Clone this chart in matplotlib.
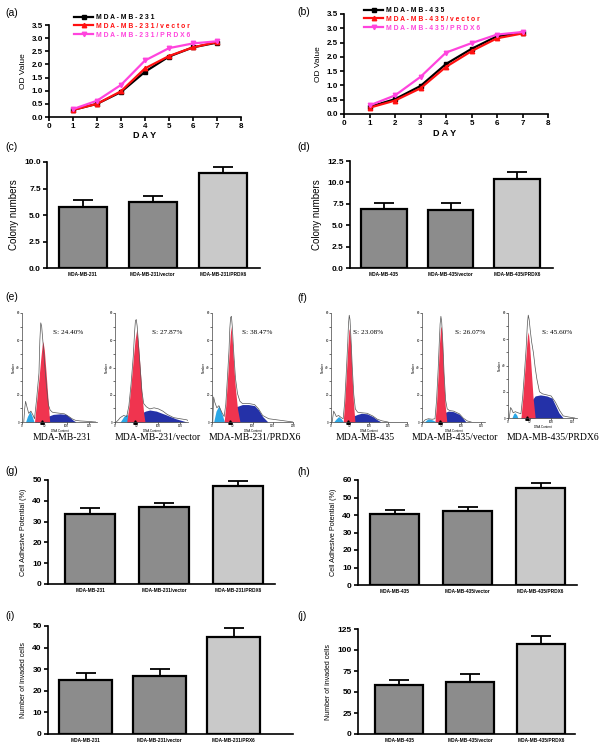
import numpy as np
import matplotlib
matplotlib.use("Agg")
import matplotlib.pyplot as plt

W, H = 600, 749
plt.rcParams['font.family'] = ['Liberation Sans', 'DejaVu Sans']

# ----- growth curves (a, b) -----
DAYS = [1, 2, 3, 4, 5, 6, 7]
od_231 = [0.27, 0.50, 0.95, 1.72, 2.30, 2.65, 2.83]
od_231_vec = [0.27, 0.50, 0.98, 1.85, 2.32, 2.65, 2.85]
od_231_prdx6 = [0.30, 0.62, 1.22, 2.15, 2.62, 2.80, 2.88]
od_435 = [0.25, 0.52, 0.98, 1.75, 2.28, 2.72, 2.85]
od_435_vec = [0.22, 0.47, 0.90, 1.65, 2.20, 2.65, 2.82]
od_435_prdx6 = [0.30, 0.65, 1.30, 2.15, 2.48, 2.78, 2.87]
names_231 = ['M D A - M B - 2 3 1', 'M D A - M B - 2 3 1 / v e c t o r', 'M D A - M B - 2 3 1 / P R D X 6']
names_435 = ['M D A - M B - 4 3 5', 'M D A - M B - 4 3 5 / v e c t o r', 'M D A - M B - 4 3 5 / P R D X 6']
LINE_COLORS = ['black', '#ff1010', '#ff44dd']
MARKERS = ['s', '^', 'v']

# ----- bar panels -----
groups_231 = ['MDA-MB-231', 'MDA-MB-231/vector', 'MDA-MB-231/PRDX6']
groups_435 = ['MDA-MB-435', 'MDA-MB-435/vector', 'MDA-MB-435/PRDX6']
groups_231_inv = ['MDA-MB-231', 'MDA-MB-231/vector', 'MDA-MB-231/PRX6']
colony_231 = [5.8, 6.2, 9.0]
colony_231_err = [0.65, 0.6, 0.55]
colony_435 = [6.85, 6.8, 10.4]
colony_435_err = [0.75, 0.85, 0.8]
adhesive_231 = [33.8, 36.8, 47.3]
adhesive_231_err = [2.5, 2.2, 2.3]
adhesive_435 = [40.5, 42.3, 55.2]
adhesive_435_err = [2.2, 2.5, 3.0]
invaded_231 = [25.0, 26.8, 45.0]
invaded_231_err = [3.3, 3.2, 4.0]
invaded_435 = [58.0, 62.0, 107.5]
invaded_435_err = [6.5, 9.0, 9.0]
BAR_COLORS = ['#8c8c8c', '#8c8c8c', '#c9c9c9']

# ----- cell cycle histograms (e, f): points -----
flow_231 = [
    dict(s='S: 24.40%',
         cyan=([8, 12, 18, 23, 27], [0, 5, 10, 5, 0]),
         red=([28, 33, 38, 42, 45, 47, 50, 54, 58, 62], [0, 20, 40, 58, 70, 74, 66, 45, 22, 0]),
         blue=([28, 40, 50, 60, 70, 85, 99, 108, 115, 121], [0, 2.5, 4, 5.5, 7, 7.5, 7, 4, 1.5, 0]),
         line=([4, 6, 8, 11, 15, 20, 25, 28, 33, 38, 40, 42, 44, 46, 48, 51, 55, 59, 63, 68, 75, 85, 95, 105, 112, 120, 130, 150, 165],
               [0, 12, 19, 14, 8, 10, 6, 3, 22, 45, 75, 91, 88, 78, 68, 52, 32, 16, 11, 9, 8.5, 8, 7.5, 5, 3, 1.5, 1, 0.5, 0])),
    dict(s='S: 27.87%',
         cyan=([12, 20, 27, 35, 42], [0, 5, 7, 4, 0]),
         red=([27, 32, 37, 42, 46, 50, 54, 58, 62, 66, 69], [0, 15, 35, 58, 75, 85, 70, 48, 25, 8, 0]),
         blue=([38, 55, 70, 80, 95, 115, 140, 165], [0, 7, 10, 11, 10, 7, 3, 0]),
         line=([3, 8, 12, 20, 27, 32, 37, 42, 45, 47, 49, 51, 54, 58, 62, 66, 72, 80, 90, 100, 110, 120, 135, 150, 165, 175],
               [0, 2, 4, 6, 5, 15, 35, 60, 82, 93, 94, 88, 72, 50, 28, 17, 14, 12, 13, 12, 10, 7, 4, 3, 2, 0])),
    dict(s='S: 38.47%',
         cyan=([4, 10, 17, 24, 31], [0, 10, 15, 8, 0]),
         red=([30, 34, 38, 42, 45, 47, 50, 54, 58, 63, 69], [0, 15, 38, 62, 80, 88, 75, 50, 30, 12, 0]),
         blue=([31, 45, 60, 75, 90, 105, 115, 125, 138], [0, 8, 14, 16, 16, 15, 11, 5, 0]),
         line=([2, 4, 7, 12, 17, 24, 30, 34, 38, 42, 44, 46, 48, 50, 54, 58, 63, 69, 75, 90, 105, 115, 125, 140, 160, 180, 200],
               [0, 23, 18, 13, 15, 9, 5, 16, 40, 66, 86, 96, 97, 88, 62, 40, 26, 19, 17, 17, 16, 12, 6, 3, 2, 1, 0])),
]
flow_435 = [
    dict(s='S: 23.08%',
         cyan=([7, 14, 20, 27, 33], [0, 3, 5, 3, 0]),
         red=([32, 36, 40, 44, 47, 49, 52, 55, 59, 63], [0, 18, 42, 68, 84, 86, 70, 45, 18, 0]),
         blue=([40, 55, 70, 80, 95, 110, 122, 132], [0, 5, 7, 8, 7.5, 5, 2, 0]),
         line=([3, 7, 10, 14, 20, 27, 32, 36, 40, 44, 46, 48, 50, 53, 56, 60, 64, 70, 80, 95, 110, 122, 135, 150],
               [0, 10, 8, 5, 6, 4, 3, 18, 44, 72, 90, 98, 94, 74, 50, 25, 12, 9, 8.5, 8, 5.5, 2.5, 1, 0])),
    dict(s='S: 26.07%',
         cyan=([6, 12, 16, 26, 37], [0, 2, 3, 2, 0]),
         red=([33, 37, 41, 44, 47, 49, 52, 55, 59, 63], [0, 18, 45, 70, 86, 88, 70, 42, 15, 0]),
         blue=([37, 50, 60, 67, 80, 95, 105, 112], [0, 6, 9, 10, 9.5, 7, 3, 0]),
         line=([3, 8, 16, 26, 33, 37, 41, 44, 46, 48, 50, 53, 56, 60, 64, 70, 80, 95, 105, 115, 125],
               [0, 2, 3, 2.5, 3, 20, 48, 74, 90, 97, 92, 72, 45, 20, 12, 10.5, 10, 7.5, 3.5, 1, 0])),
    dict(s='S: 45.60%',
         cyan=([9, 13, 16, 20, 23], [0, 4, 5, 3, 0]),
         red=([30, 34, 38, 42, 45, 47, 50, 54, 58, 63], [0, 18, 40, 62, 78, 82, 70, 45, 20, 0]),
         blue=([30, 40, 50, 63, 75, 90, 102, 110, 118, 128], [0, 6, 14, 21, 22, 21, 19, 12, 5, 0]),
         line=([3, 6, 9, 12, 17, 23, 30, 34, 38, 42, 45, 47, 49, 52, 55, 59, 63, 67, 73, 80, 90, 100, 110, 120, 128, 140, 155],
               [0, 10, 8, 5, 6, 5, 4, 20, 42, 66, 90, 98, 94, 82, 72, 62, 48, 37, 25, 23, 22, 21, 15, 7, 2, 1, 0])),
]


def px_axes(fig, left, top, right, bottom):
    return fig.add_axes([left / W, 1 - bottom / H, (right - left) / W, (bottom - top) / H])


def tag(fig, x, y, text):
    fig.text(x / W, 1 - y / H, text, fontsize=7.5, ha='left', va='center')


def style_axes(ax, lw=1.1):
    for s in ['top', 'right']:
        ax.spines[s].set_visible(False)
    for s in ['left', 'bottom']:
        ax.spines[s].set_linewidth(lw)
    ax.tick_params(width=lw, length=3, direction='out', pad=1.5)


def growth_panel(fig, rect, series, names, legend_xy, day_xy):
    ax = px_axes(fig, *rect)
    for vals, name, color, marker in zip(series, names, LINE_COLORS, MARKERS):
        ax.plot(DAYS, vals, color=color, marker=marker, ms=3.2, lw=1.6, label=name)
    ax.set_xlim(0, 8)
    ax.set_ylim(0, 3.5)
    ax.set_xticks(range(0, 9))
    ax.set_yticks(np.arange(0, 3.51, 0.5))
    ax.set_yticklabels([f'{v:.1f}' for v in np.arange(0, 3.51, 0.5)])
    style_axes(ax, 1.2)
    for lab in ax.get_xticklabels() + ax.get_yticklabels():
        lab.set_fontsize(5.8)
        lab.set_fontweight('bold')
    ax.set_ylabel('OD Value', fontsize=6, labelpad=3)
    fig.text(day_xy[0] / W, 1 - day_xy[1] / H, 'D A Y', fontsize=6.5, fontweight='bold',
             ha='center', va='center')
    ax.legend(loc='upper left', bbox_to_anchor=(legend_xy[0] / W, 1 - legend_xy[1] / H),
              bbox_transform=fig.transFigure, frameon=False,
              handlelength=2.7, handletextpad=0.4, labelspacing=0.28, borderpad=0,
              labelcolor='linecolor', prop={'weight': 'bold', 'size': 4.9})
    return ax


def bar_panel(fig, rect, xlim, ylim, yticks, fmt, vals, errs, labels, ylabel, ylabel_size, width=0.68):
    ax = px_axes(fig, *rect)
    x = np.arange(len(vals))
    ax.errorbar(x, vals, yerr=[np.zeros(len(errs)), errs], fmt='none', ecolor='black',
                elinewidth=1.3, capsize=7, capthick=1.3, zorder=1)
    ax.bar(x, vals, width=width, color=BAR_COLORS, edgecolor='black', linewidth=1.6, zorder=2)
    ax.set_xlim(*xlim)
    ax.set_ylim(*ylim)
    ax.set_yticks(yticks)
    ax.set_yticklabels([fmt.format(v) for v in yticks], fontsize=6, fontweight='bold')
    ax.set_xticks(x)
    ax.set_xticklabels(labels, fontsize=3.4, fontweight='bold')
    style_axes(ax, 1.2)
    ax.tick_params(axis='x', length=0, pad=3)
    ax.set_ylabel(ylabel, fontsize=ylabel_size, labelpad=4)
    return ax


def flow_panel(fig, rect, xmax, d, caption, cap_xy, s_xy):
    ax = px_axes(fig, *rect)
    ax.fill_between(*d['cyan'], color='#2aa7e6', lw=0)
    ax.fill_between(*d['blue'], color='#2431a8', lw=0)
    ax.fill_between(*d['red'], color='#f0344f', lw=0)
    ax.plot(*d['line'], color='#555555', lw=0.5)
    ax.plot([45], [0], marker='^', color='black', ms=2.5, clip_on=False)
    ax.set_xlim(0, xmax)
    ax.set_ylim(0, 100)
    ax.set_xticks([0, 50, 100, 150, 200][:int(xmax // 50) + 1])
    ax.set_yticks(np.arange(0, 101, 12.5))
    ax.set_yticklabels(['0', '', '20', '', '40', '', '60', '', '80'], fontsize=2.2)
    ax.tick_params(axis='x', labelsize=2.2, length=1.2, width=0.4, pad=0.5)
    ax.tick_params(axis='y', length=1.2, width=0.4, pad=0.5)
    for s in ['top', 'right']:
        ax.spines[s].set_visible(False)
    for s in ['left', 'bottom']:
        ax.spines[s].set_linewidth(0.5)
        ax.spines[s].set_color('#444444')
    ax.set_xlabel('DNA Content', fontsize=2.2, labelpad=0.3)
    ax.set_ylabel('Number', fontsize=2.2, labelpad=0.5)
    fig.text(cap_xy[0] / W, 1 - cap_xy[1] / H, caption, fontsize=7, family='Liberation Serif',
             ha='center', va='center')
    fig.text(s_xy[0] / W, 1 - s_xy[1] / H, d['s'], fontsize=5.2, family='Liberation Serif',
             ha='left', va='center')
    return ax


fig = plt.figure(figsize=(W / 100, H / 100), dpi=100)

# (a) and (b)
growth_panel(fig, (49, 25, 241, 117), [od_231, od_231_vec, od_231_prdx6], names_231, (71, 10.5), (145, 135))
growth_panel(fig, (344, 14, 548, 114), [od_435, od_435_vec, od_435_prdx6], names_435, (361, 3.5), (445, 134))
tag(fig, 5, 13, '(a)')
tag(fig, 297, 12, '(b)')

# (c) and (d)
bar_panel(fig, (47, 162, 260, 268), (-0.51, 2.53), (0, 10), [0, 2.5, 5, 7.5, 10], '{:.1f}',
          colony_231, colony_231_err, groups_231, 'Colony numbers', 7)
bar_panel(fig, (350, 161, 553, 268), (-0.51, 2.54), (0, 12.5), [0, 2.5, 5, 7.5, 10, 12.5], '{:.1f}',
          colony_435, colony_435_err, groups_435, 'Colony numbers', 7)
tag(fig, 5, 147, '(c)')
tag(fig, 297, 147, '(d)')

# (e) and (f)
flow_rects_231 = [((22, 313, 97, 422), 168, (62, 437), (53, 332)),
                  ((115, 313, 188, 422), 168, (158, 437), (152, 332)),
                  ((212, 313, 293, 422), 200, (255, 437), (242, 332))]
flow_rects_435 = [((331, 313, 407, 422), 200, (365, 437), (353, 332)),
                  ((422, 313, 485, 422), 160, (455, 437), (455, 332)),
                  ((508, 313, 577, 418), 160, (553, 437), (542, 332))]
for (rect, xmax, cap, sxy), d, g in zip(flow_rects_231, flow_231, groups_231):
    flow_panel(fig, rect, xmax, d, g, cap, sxy)
for (rect, xmax, cap, sxy), d, g in zip(flow_rects_435, flow_435, groups_435):
    flow_panel(fig, rect, xmax, d, g, cap, sxy)
tag(fig, 5, 297, '(e)')
tag(fig, 297, 298, '(f)')

# (g) and (h)
bar_panel(fig, (48, 480, 275, 584), (-0.57, 2.5), (0, 50), [0, 10, 20, 30, 40, 50], '{:.0f}',
          adhesive_231, adhesive_231_err, groups_231, 'Cell Adhesive Potential (%)', 5.2)
bar_panel(fig, (358, 480, 577, 585), (-0.5, 2.5), (0, 60), [0, 10, 20, 30, 40, 50, 60], '{:.0f}',
          adhesive_435, adhesive_435_err, groups_435, 'Cell Adhesive Potential (%)', 5.2)
tag(fig, 5, 471, '(g)')
tag(fig, 297, 472, '(h)')

# (i) and (j)
bar_panel(fig, (48, 626, 293, 734), (-0.51, 2.8), (0, 50), [0, 10, 20, 30, 40, 50], '{:.0f}',
          invaded_231, invaded_231_err, groups_231_inv, 'Number of invaded cells', 5, width=0.72)
bar_panel(fig, (358, 629, 575, 734), (-0.58, 2.48), (0, 125), [0, 25, 50, 75, 100, 125], '{:.0f}',
          invaded_435, invaded_435_err, groups_435, 'Number of invaded cells', 5)
tag(fig, 5, 616, '(i)')
tag(fig, 297, 616, '(j)')

fig.savefig('out.png', dpi=100)
